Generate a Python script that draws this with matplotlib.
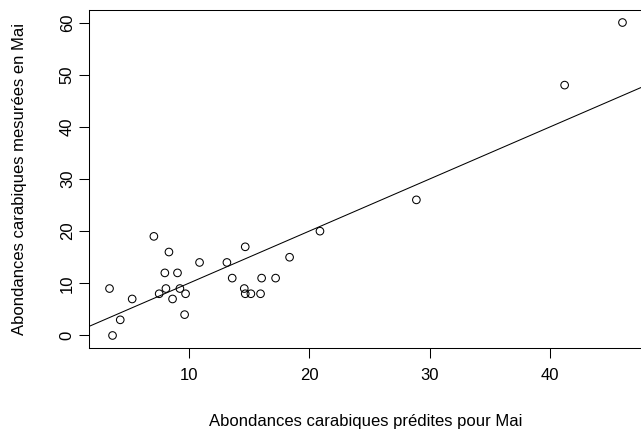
import numpy as np
import matplotlib
matplotlib.use("Agg")
import matplotlib.pyplot as plt

# Data
predicted = [3.44, 3.69, 4.33, 5.32, 7.12, 8.37, 8.03, 9.08, 7.56, 8.12,
             8.67, 9.28, 9.75, 9.67, 10.91, 13.18, 13.62, 14.70, 14.62, 14.70,
             15.17, 15.97, 16.06, 17.22, 18.38, 20.90, 28.90, 41.20, 46.00]
measured = [9, 0, 3, 7, 19, 16, 12, 12, 8, 9,
            7, 9, 8, 4, 14, 14, 11, 17, 9, 8,
            8, 8, 11, 11, 15, 20, 26, 48, 60]
x_ticks = [10, 20, 30, 40]
y_ticks = [0, 10, 20, 30, 40, 50, 60]
line_intercept = 0.0
line_slope = 1.0
x_label = "Abondances carabiques prédites pour Mai"
y_label = "Abondances carabiques mesurées en Mai"

plt.rcParams['font.family'] = ['Liberation Sans', 'DejaVu Sans']

W, H = 641, 437
fig = plt.figure(figsize=(W / 100, H / 100), dpi=100)
L, R, T, B = 89, 643, 10, 348
ax = fig.add_axes([L / W, (H - B) / H, (R - L) / W, (B - T) / H])

ax.scatter(predicted, measured, s=30, facecolors='none', edgecolors='black',
           linewidths=0.75, zorder=3)
ax.axline((0, line_intercept), slope=line_slope, color='black', linewidth=0.75)

def rpad(v):
    lo, hi = min(v), max(v)
    d = 0.04 * (hi - lo)
    return lo - d, hi + d

ax.set_xlim(*rpad(predicted))
ax.set_ylim(*rpad(measured))

ax.set_xticks(x_ticks)
ax.set_yticks(y_ticks)
ax.set_yticklabels([str(t) for t in y_ticks], rotation=90, va='center')
fs = 12
ax.tick_params(axis='both', direction='out', length=7.2, width=0.75,
               color='black', labelsize=fs, labelcolor='black')
ax.tick_params(axis='x', pad=7)
ax.tick_params(axis='y', pad=3)
for s in ax.spines.values():
    s.set_linewidth(0.75)
    s.set_color('black')

ax.set_xlabel(x_label, fontsize=fs)
ax.set_ylabel(y_label, fontsize=fs)
ax.xaxis.set_label_coords(0.5, (B - 414) / (B - T))
ax.yaxis.set_label_coords((27 - L) / (R - L), 0.5)

fig.savefig("out.png", dpi=100)
